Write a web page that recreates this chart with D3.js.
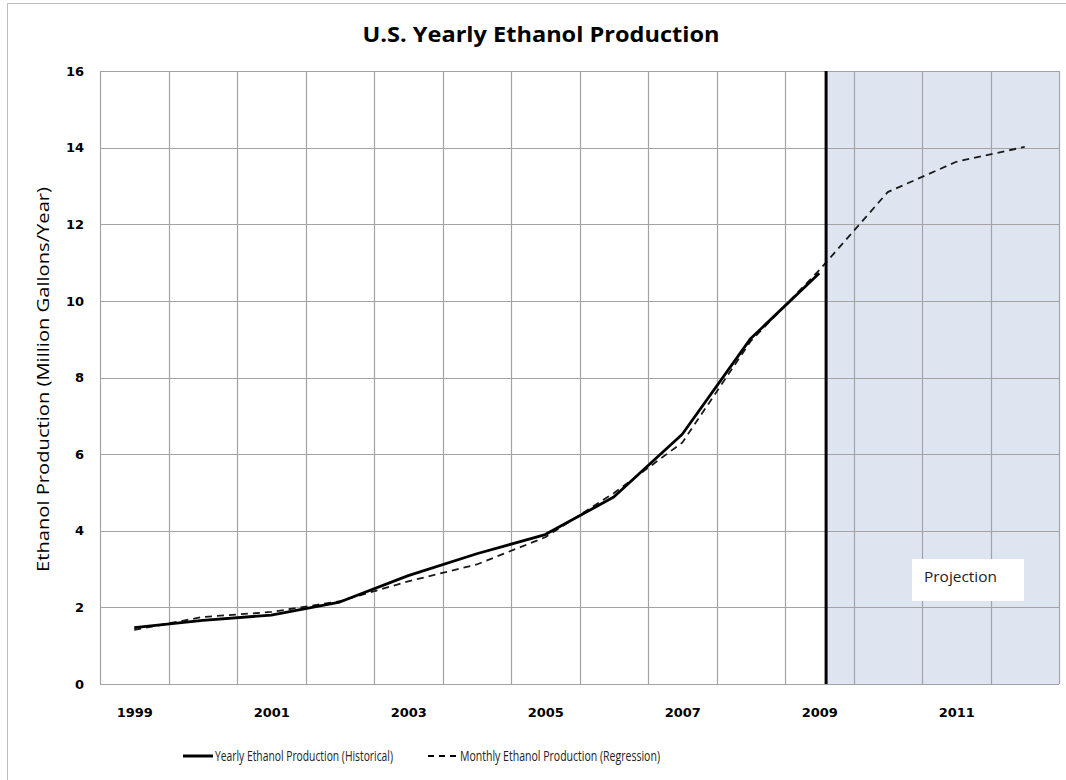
<!DOCTYPE html>
<html>
<head>
<meta charset="utf-8">
<script src="https://cdn.jsdelivr.net/npm/d3@7"></script>
<style>
  html, body { margin: 0; padding: 0; background: #fff; }
  svg { display: block; }
</style>
</head>
<body>
<svg id="chart" width="1066" height="780"></svg>
<script>
// ---- data ----
const histYears = [1999, 2000, 2001, 2002, 2003, 2004, 2005, 2006, 2007, 2008, 2009];
const historical = [1.47, 1.66, 1.80, 2.14, 2.83, 3.40, 3.90, 4.88, 6.52, 9.02, 10.72];
const regYears = [1999, 2000, 2001, 2002, 2003, 2004, 2005, 2006, 2007, 2008, 2009, 2010, 2011, 2012];
const regression = [1.41, 1.75, 1.88, 2.16, 2.68, 3.12, 3.83, 4.98, 6.30, 8.95, 10.80, 12.84, 13.63, 14.02];
const xTickLabels = [1999, 2001, 2003, 2005, 2007, 2009, 2011];
const yTickLabels = [0, 2, 4, 6, 8, 10, 12, 14, 16];
const projectionStart = 2009.1;
const titleText = "U.S. Yearly Ethanol Production";
const yTitle = "Ethanol Production (Million Gallons/Year)";
const legendLabels = ["Yearly Ethanol Production (Historical)", "Monthly Ethanol Production (Regression)"];
const projectionLabel = "Projection";

(function () {
// ---- layout ----
const svg = d3.select("#chart");
const pL = 100, pR = 1059, pT = 71, pB = 684;
const x = d3.scaleLinear().domain([1998.5, 2012.5]).range([pL, pR]);
const y = d3.scaleLinear().domain([0, 16]).range([pB, pT]);

// outer frame
svg.append("path")
  .attr("d", `M7.5,780 L7.5,3.5 L1066,3.5`)
  .attr("fill", "none").attr("stroke", "#bdbdbd").attr("stroke-width", 1);

// projection shading
svg.append("rect")
  .attr("x", x(projectionStart)).attr("y", pT)
  .attr("width", x(2012.5) - x(projectionStart)).attr("height", pB - pT)
  .attr("fill", "#dfe5f0");

// gridlines
const gridV = d3.range(1998.5, 2013, 1);
svg.append("g").selectAll("line").data(gridV).join("line")
  .attr("x1", d => Math.round(x(d)) + 0.5).attr("x2", d => Math.round(x(d)) + 0.5)
  .attr("y1", pT).attr("y2", pB)
  .attr("stroke", "#a3a3a3").attr("stroke-width", 1.2);
svg.append("g").selectAll("line").data(yTickLabels).join("line")
  .attr("x1", pL).attr("x2", pR)
  .attr("y1", d => Math.round(y(d)) + 0.5).attr("y2", d => Math.round(y(d)) + 0.5)
  .attr("stroke", "#a3a3a3").attr("stroke-width", 1.2);

// axes
const yAxis = svg.append("g").attr("transform", `translate(${pL - 16},0)`)
  .call(d3.axisLeft(y).tickValues(yTickLabels).tickSize(0).tickPadding(0));
yAxis.select(".domain").remove();
yAxis.selectAll("text")
  .attr("font-family", "DejaVu Sans").attr("font-weight", "bold")
  .attr("font-size", 13).attr("fill", "#000");

const xAxis = svg.append("g").attr("transform", `translate(0,${pB + 24})`)
  .call(d3.axisBottom(x).tickValues(xTickLabels).tickFormat(d3.format("d")).tickSize(0).tickPadding(0));
xAxis.select(".domain").remove();
xAxis.selectAll("text")
  .attr("font-family", "DejaVu Sans").attr("font-weight", "bold")
  .attr("font-size", 13).attr("fill", "#000");

// lines
const lineGen = d3.line().x(d => x(d[0])).y(d => y(d[1]));
svg.append("path")
  .datum(regYears.map((yr, i) => [yr, regression[i]]))
  .attr("d", lineGen).attr("fill", "none")
  .attr("stroke", "#1a1a1a").attr("stroke-width", 1.8)
  .attr("stroke-dasharray", "7,5");
svg.append("path")
  .datum(histYears.map((yr, i) => [yr, historical[i]]))
  .attr("d", lineGen).attr("fill", "none")
  .attr("stroke", "#000").attr("stroke-width", 2.8)
  .attr("stroke-linejoin", "round");

// projection vertical line
svg.append("line")
  .attr("x1", x(projectionStart)).attr("x2", x(projectionStart))
  .attr("y1", pT).attr("y2", pB)
  .attr("stroke", "#000").attr("stroke-width", 3);

// projection label
svg.append("rect").attr("x", 912).attr("y", 559).attr("width", 112).attr("height", 42).attr("fill", "#fff");
svg.append("text").attr("x", 924).attr("y", 582)
  .attr("font-family", "Open Sans").attr("font-size", 14.5).attr("fill", "#222")
  .attr("textLength", 73).attr("lengthAdjust", "spacingAndGlyphs")
  .text(projectionLabel);

// title
svg.append("text").attr("x", 541).attr("y", 42).attr("text-anchor", "middle")
  .attr("font-family", "Open Sans").attr("font-weight", "bold").attr("font-size", 22)
  .attr("fill", "#000")
  .attr("textLength", 357).attr("lengthAdjust", "spacingAndGlyphs")
  .text(titleText);

// y title
svg.append("text")
  .attr("transform", `translate(49,${(187 + 572) / 2}) rotate(-90)`)
  .attr("text-anchor", "middle")
  .attr("font-family", "Open Sans").attr("font-size", 17).attr("fill", "#000")
  .attr("textLength", 385).attr("lengthAdjust", "spacingAndGlyphs")
  .text(yTitle);

// legend
const lg = svg.append("g");
lg.append("line").attr("x1", 183).attr("x2", 213).attr("y1", 756).attr("y2", 756)
  .attr("stroke", "#000").attr("stroke-width", 3);
lg.append("text").attr("x", 215).attr("y", 761)
  .attr("font-family", "Open Sans").attr("font-size", 14).attr("fill", "#222")
  .attr("textLength", 178).attr("lengthAdjust", "spacingAndGlyphs")
  .text(legendLabels[0]);
lg.append("line").attr("x1", 428).attr("x2", 459).attr("y1", 756).attr("y2", 756)
  .attr("stroke", "#000").attr("stroke-width", 2).attr("stroke-dasharray", "6,5");
lg.append("text").attr("x", 460).attr("y", 761)
  .attr("font-family", "Open Sans").attr("font-size", 14).attr("fill", "#222")
  .attr("textLength", 200).attr("lengthAdjust", "spacingAndGlyphs")
  .text(legendLabels[1]);
})();
</script>
</body>
</html>
